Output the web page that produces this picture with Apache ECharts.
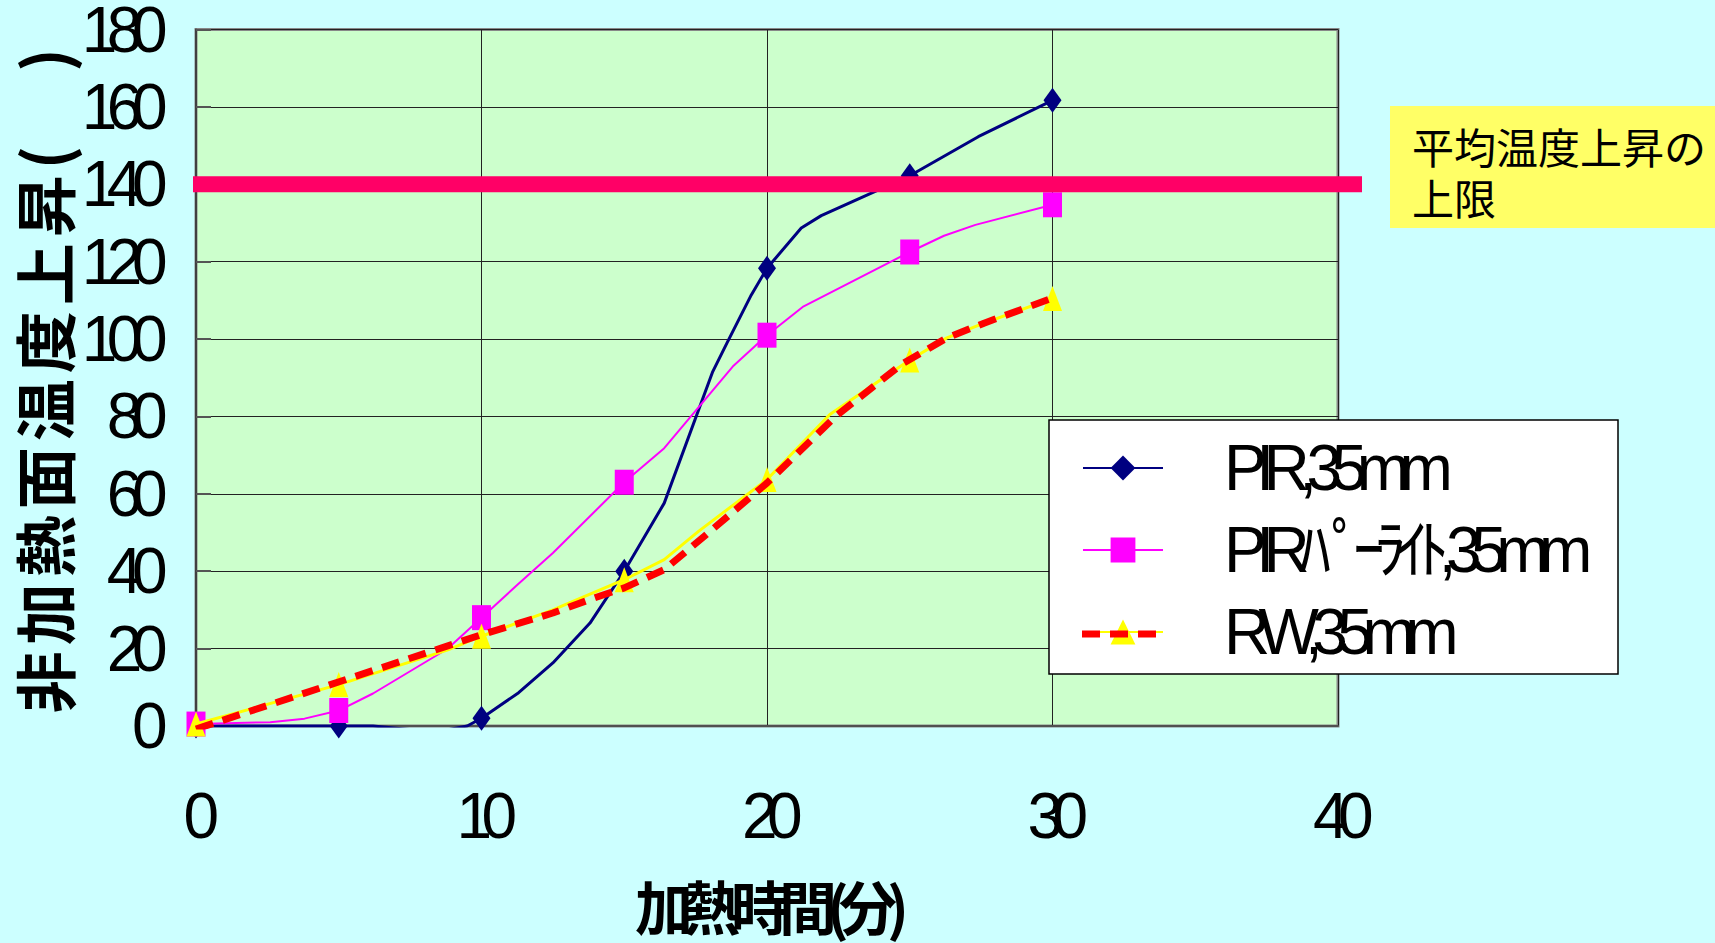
<!DOCTYPE html>
<html>
<head>
<meta charset="utf-8">
<script src="https://cdn.jsdelivr.net/npm/echarts@6/dist/echarts.min.js"></script>
<style>
html,body{margin:0;padding:0;background:#CCFFFF;}
#c{width:1715px;height:943px;}
#c text[style*="NumA"]{letter-spacing:-10.5px;}
#c text[style*="CjkX"]{letter-spacing:-10px;}
#c text[style*="CjkY"]{letter-spacing:6px;}
</style>
</head>
<body>
<div id="c"></div>
<script>
// ---- data ----
const seriesNames = ['PIR,35mm', 'PIRﾊﾟｰﾗｲﾄ,35mm', 'RW,35mm'];
const markerTimes = [0, 5, 10, 15, 20, 25, 30];

const pirTime = [0, 5, 6.2, 7.6, 8.8, 9.5, 10, 11.3, 12.5, 13.8, 15, 16.4, 18.1, 18.6, 19.45, 20, 21.2, 21.9, 25, 27.4, 30];
const pirTemp = [0, 0, 0, -1, -1, 0, 2, 8.6, 16.3, 26.6, 40, 57.6, 91.6, 99, 111.4, 118.3, 128.7, 131.9, 142.2, 152.3, 161.7];

const perliteTime = [0, 2.6, 3.8, 5, 6.2, 8.8, 10, 11.2, 12.5, 15, 16.4, 18.8, 20, 21.25, 25, 26.2, 27.3, 30];
const perliteTemp = [0.5, 1, 1.9, 4, 8.4, 19.9, 28, 36.1, 44.7, 63, 71.8, 92.9, 101, 108.3, 122.5, 126.7, 129.5, 134.7];

const rwTime = [0, 5, 8.8, 10, 12.5, 15, 16.4, 17.6, 20, 22.2, 25, 26.3, 27.6, 30];
const rwTemp = [0.5, 10.7, 19.6, 23.2, 30, 37.8, 43, 50.3, 63.7, 80.5, 94.6, 100.3, 104.1, 110.5];

const rwTrendTime = [0, 10, 12.5, 13.8, 15, 16.4, 17.8, 20, 22.4, 24.7, 26.3, 27.6, 30];
const rwTrendTemp = [-0.8, 23.6, 29.2, 32.7, 35.7, 40.4, 49, 62.8, 80, 93.4, 100.3, 104.1, 110.6];

// upper limit of average temperature rise, drawn across the whole shape box
const limitValue = 140;
const limitSpan = [0, 1];

const xTicks = { min: 0, max: 40, interval: 10 };
const yTicks = { min: 0, max: 180, interval: 20 };

const annotationText = '平均温度上昇の\n上限';
const xAxisName = '加熱時間(分)';
const yAxisName = '非加熱面温度上昇(　)';

// ---- build ----
function build(times, values) {
  return times.map((t, i) => markerTimes.indexOf(t) >= 0
    ? [t, values[i]]
    : { value: [t, values[i]], symbol: 'none' });
}

const numFont = "'Liberation Sans', 'Noto Sans CJK JP', NumA, sans-serif";
const cjkFont = "'Noto Sans CJK JP', sans-serif";

const chart = echarts.init(document.getElementById('c'), null, { renderer: 'svg' });
chart.setOption({
  animation: false,
  backgroundColor: '#CCFFFF',
  title: {
    text: annotationText,
    left: 1390, top: 106,
    backgroundColor: '#FFFF66',
    padding: [14, 12, 6, 22],
    textStyle: { fontFamily: cjkFont, fontSize: 42, lineHeight: 51, fontWeight: 'normal', color: '#000' }
  },
  grid: [
    {
      left: 196, right: 377, top: 29.5, bottom: 217,
      outerBoundsMode: 'none', containLabel: false,
      show: true, backgroundColor: '#CCFFCC', borderColor: '#888888', borderWidth: 3
    },
    {
      left: 193, right: 353, top: 29.5, bottom: 217,
      outerBoundsMode: 'none', containLabel: false, show: false
    }
  ],
  legend: {
    orient: 'vertical',
    left: 1082, top: 427,
    padding: 0,
    itemGap: 0,
    itemWidth: 80,
    itemHeight: 31,
    z: 4,
    data: seriesNames,
    textStyle: { fontFamily: numFont, fontSize: 64, lineHeight: 82, color: '#000', padding: [0, 0, 0, 56] }
  },
  graphic: [
    { type: 'rect', z: 3, shape: { x: 1049, y: 420, width: 569, height: 254 },
      style: { fill: '#FFFFFF', stroke: '#000000', lineWidth: 1.5 } },
    { type: 'line', z: 100, shape: { x1: 1082, y1: 634, x2: 1162, y2: 634 },
      style: { stroke: '#FF0000', lineWidth: 7, lineDash: [18, 10] } }
  ],
  xAxis: [
    {
      type: 'value', gridIndex: 0, min: xTicks.min, max: xTicks.max, interval: xTicks.interval,
      name: xAxisName, nameLocation: 'middle', nameGap: 150, nameMoveOverlap: false,
      nameTextStyle: { fontFamily: "'Noto Sans CJK JP', CjkX, sans-serif", fontSize: 58, fontWeight: 'bold', color: '#000' },
      axisLine: { show: true, lineStyle: { color: '#505050', width: 2 } },
      axisTick: { show: false },
      axisLabel: { fontFamily: numFont, fontSize: 64, color: '#000', margin: 58 },
      splitLine: { show: true, lineStyle: { color: '#222', width: 1 } }
    },
    { type: 'value', gridIndex: 1, min: 0, max: 1, show: false }
  ],
  yAxis: [
    {
      type: 'value', gridIndex: 0, min: yTicks.min, max: yTicks.max, interval: yTicks.interval,
      name: yAxisName, nameLocation: 'middle', nameGap: 122, nameMoveOverlap: false,
      nameTextStyle: { fontFamily: "'Noto Sans CJK JP', CjkY, sans-serif", fontSize: 62, fontWeight: 'bold', color: '#000' },
      axisLine: { show: true, lineStyle: { color: '#404040', width: 2 } },
      axisTick: { show: true, inside: true, length: 15, lineStyle: { color: '#555', width: 2 } },
      axisLabel: { fontFamily: numFont, fontSize: 64, color: '#000', margin: 39, padding: [11, 0, 0, 0] },
      splitLine: { show: true, lineStyle: { color: '#222', width: 1 } }
    },
    { type: 'value', gridIndex: 1, min: yTicks.min, max: yTicks.max, show: false }
  ],
  series: [
    { name: seriesNames[0], type: 'line', z: 2, data: build(pirTime, pirTemp),
      symbol: 'diamond', symbolSize: [18, 25], color: '#000080',
      itemStyle: { color: '#000080' }, lineStyle: { color: '#000080', width: 3 } },
    { name: seriesNames[1], type: 'line', z: 3, data: build(perliteTime, perliteTemp),
      symbol: 'rect', symbolSize: [19, 25], color: '#FF00FF',
      itemStyle: { color: '#FF00FF' }, lineStyle: { color: '#FF00FF', width: 2 } },
    { name: seriesNames[2], type: 'line', z: 4, data: build(rwTime, rwTemp),
      symbol: 'triangle', symbolSize: [19, 25], color: '#FFFF00',
      itemStyle: { color: '#FFFF00' }, lineStyle: { color: '#FFFF00', width: 3 } },
    { name: 'RW trend', type: 'line', z: 5, data: rwTrendTime.map((t, i) => [t, rwTrendTemp[i]]),
      symbol: 'none', color: '#FF0000',
      lineStyle: { color: '#FF0000', width: 7, type: [18, 10] } },
    { name: 'limit', type: 'line', z: 10, silent: true, xAxisIndex: 1, yAxisIndex: 1,
      data: limitSpan.map(x => [x, limitValue]), symbol: 'none',
      lineStyle: { color: '#FF0066', width: 16 } }
  ]
});
</script>
</body>
</html>
